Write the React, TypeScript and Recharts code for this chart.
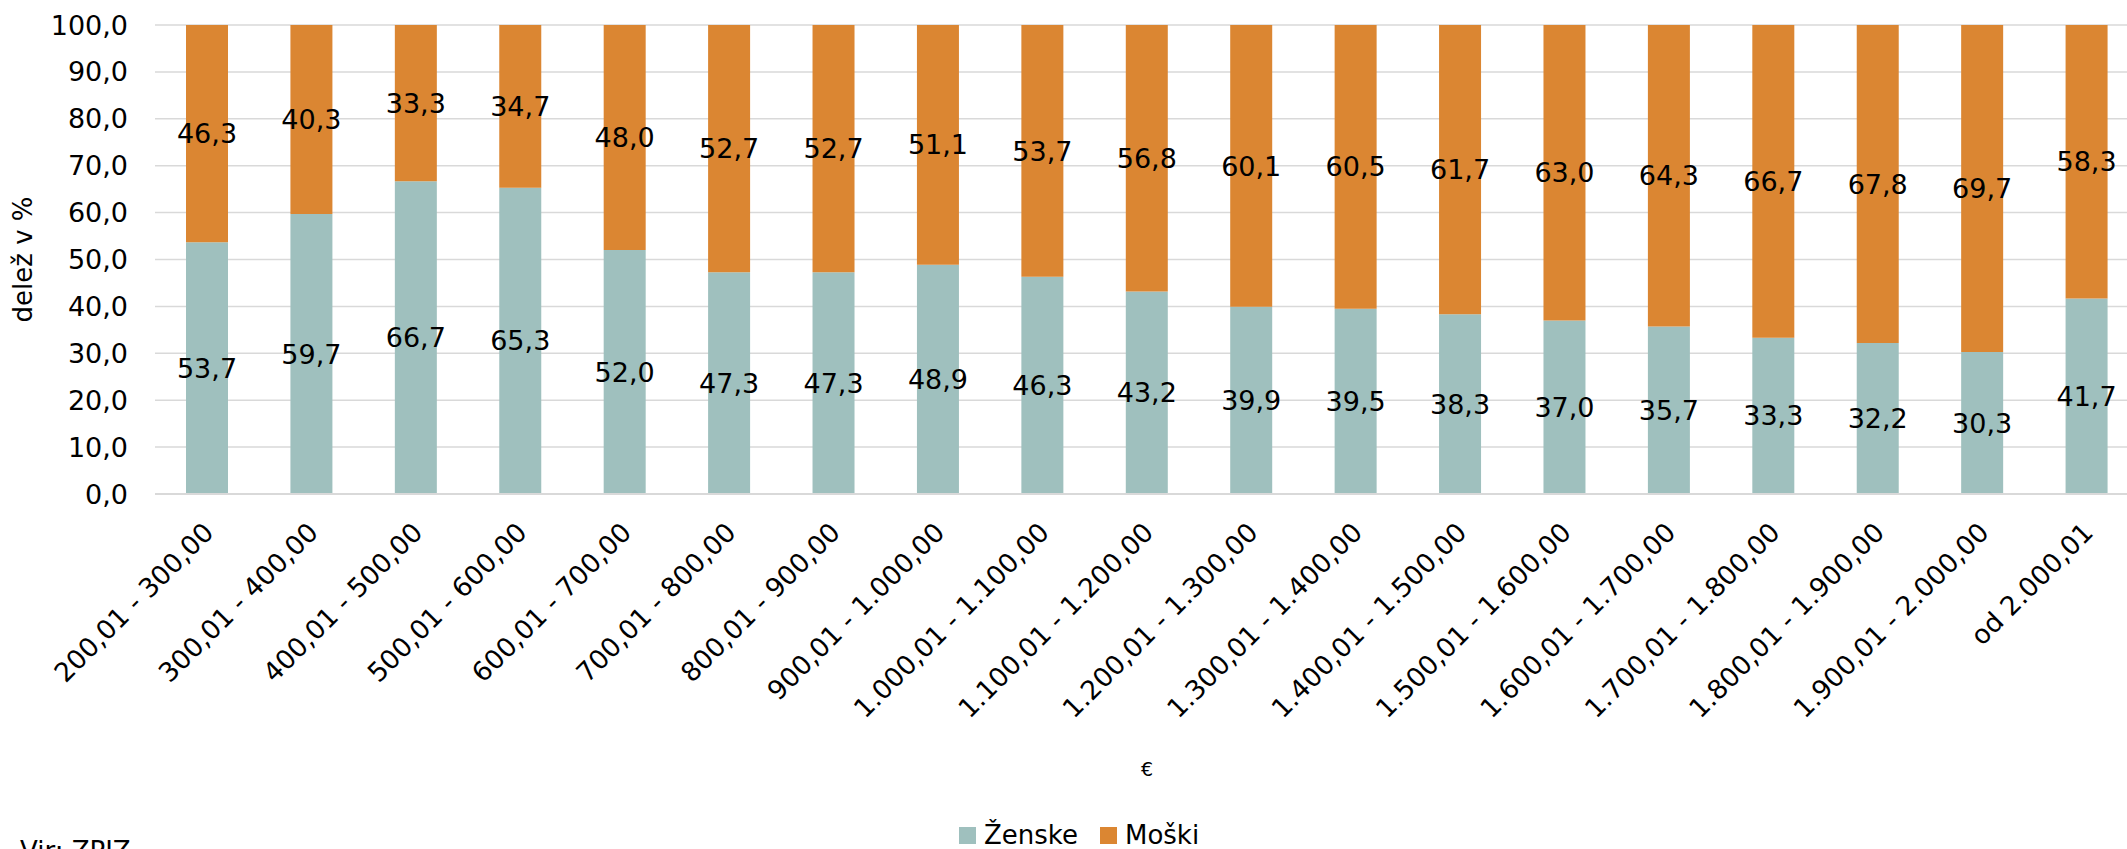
import React from "react"
import { BarChart, Bar, XAxis, YAxis, CartesianGrid, Legend, LabelList } from "recharts"

const categories = [
  "200,01 - 300,00",
  "300,01 - 400,00",
  "400,01 - 500,00",
  "500,01 - 600,00",
  "600,01 - 700,00",
  "700,01 - 800,00",
  "800,01 - 900,00",
  "900,01 - 1.000,00",
  "1.000,01 - 1.100,00",
  "1.100,01 - 1.200,00",
  "1.200,01 - 1.300,00",
  "1.300,01 - 1.400,00",
  "1.400,01 - 1.500,00",
  "1.500,01 - 1.600,00",
  "1.600,01 - 1.700,00",
  "1.700,01 - 1.800,00",
  "1.800,01 - 1.900,00",
  "1.900,01 - 2.000,00",
  "od 2.000,01",
]

const zenske = [53.7, 59.7, 66.7, 65.3, 52.0, 47.3, 47.3, 48.9, 46.3, 43.2, 39.9, 39.5, 38.3, 37.0, 35.7, 33.3, 32.2, 30.3, 41.7]
const moski = [46.3, 40.3, 33.3, 34.7, 48.0, 52.7, 52.7, 51.1, 53.7, 56.8, 60.1, 60.5, 61.7, 63.0, 64.3, 66.7, 67.8, 69.7, 58.3]

const yTicks = [0, 10, 20, 30, 40, 50, 60, 70, 80, 90, 100]

const data = categories.map((name, i) => ({ name, zenske: zenske[i], moski: moski[i] }))

const FONT = "'DejaVu Sans', sans-serif"
const ZENSKE_COLOR = "#9FC0BE"
const MOSKI_COLOR = "#DB8632"

const fmt = (v: number) => Number(v).toFixed(1).replace(".", ",")

function XTick({ x, y, payload }: any) {
  const tx = x + 8
  const ty = y + 40
  return (
    <text
      x={tx}
      y={ty}
      transform={`rotate(-45, ${tx}, ${ty})`}
      textAnchor="end"
      fontSize={26.5}
      fontFamily={FONT}
      fill="#000"
    >
      {payload.value}
    </text>
  )
}

function LegendContent() {
  const items = [
    { label: "Ženske", color: ZENSKE_COLOR },
    { label: "Moški", color: MOSKI_COLOR },
  ]
  return (
    <div style={{ display: "flex", alignItems: "center", height: 30, fontFamily: FONT, fontSize: 26 }}>
      {items.map((it, i) => (
        <div key={it.label} style={{ display: "flex", alignItems: "center", marginRight: i === 0 ? 22 : 0 }}>
          <span style={{ display: "inline-block", width: 17, height: 17, background: it.color, marginRight: 8 }} />
          <span>{it.label}</span>
        </div>
      ))}
    </div>
  )
}

export default function App() {
  return (
    <div style={{ position: "absolute", left: 0, top: 0, width: 2127, height: 849, overflow: "hidden", background: "#fff" }}>
      <BarChart width={2145} height={849} data={data} margin={{ top: 25, right: 6, bottom: 0, left: 0 }}>
        <CartesianGrid vertical={false} stroke="#D9D9D9" strokeWidth={1.5} />
        <XAxis
          dataKey="name"
          interval={0}
          height={325}
          tickLine={false}
          tickSize={0}
          tickMargin={0}
          axisLine={{ stroke: "#D9D9D9", strokeWidth: 2 }}
          tick={<XTick />}
          label={(props: any) => {
            const vb = props.viewBox || {}
            return (
              <text x={vb.x + vb.width / 2} y={776} textAnchor="middle" fontSize={19} fontFamily={FONT} fill="#000">
                €
              </text>
            )
          }}
        />
        <YAxis
          type="number"
          domain={[0, 100]}
          ticks={yTicks}
          width={155}
          axisLine={false}
          tickLine={false}
          tickSize={0}
          tickMargin={27}
          tickFormatter={fmt}
          tick={{ fontSize: 27, fontFamily: FONT, fill: "#000" }}
          label={() => (
            <text
              x={23}
              y={259.5}
              transform="rotate(-90, 23, 259.5)"
              textAnchor="middle"
              dominantBaseline="central"
              fontSize={26}
              fontFamily={FONT}
              fill="#000"
            >
              delež v %
            </text>
          )}
        />
        <Legend
          verticalAlign="bottom"
          content={<LegendContent />}
          wrapperStyle={{ left: 959, top: 820, width: "auto" }}
        />
        <Bar dataKey="zenske" name="Ženske" stackId="a" fill={ZENSKE_COLOR} barSize={42} isAnimationActive={false}>
          <LabelList dataKey="zenske" position="center" formatter={fmt} fontSize={27} fontFamily={FONT} fill="#000" />
        </Bar>
        <Bar dataKey="moski" name="Moški" stackId="a" fill={MOSKI_COLOR} barSize={42} isAnimationActive={false}>
          <LabelList dataKey="moski" position="center" formatter={fmt} fontSize={27} fontFamily={FONT} fill="#000" />
        </Bar>
      </BarChart>
      <div style={{ position: "absolute", left: 20, top: 836, fontFamily: FONT, fontSize: 26, lineHeight: "30px", whiteSpace: "nowrap" }}>
        Vir: ZPIZ
      </div>
    </div>
  )
}
